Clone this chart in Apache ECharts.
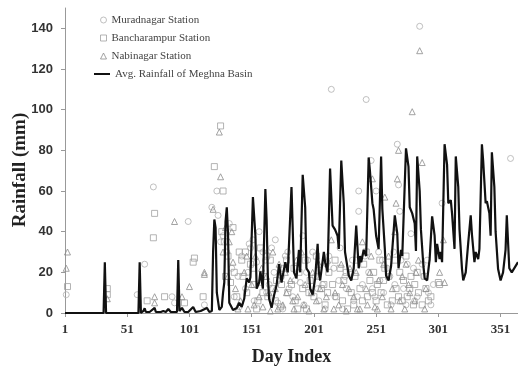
<!DOCTYPE html>
<html>
<head>
<meta charset="utf-8">
<script src="https://cdn.jsdelivr.net/npm/echarts@6/dist/echarts.min.js"></script>
<style>html,body{margin:0;padding:0;background:#fff;}#c{width:518px;height:371px;}</style>
</head>
<body>
<div id="c"></div>
<script>
// ---- Data ----
var xTickLabels = [1, 51, 101, 151, 201, 251, 301, 351];
var yTickLabels = [0, 20, 40, 60, 80, 100, 120, 140];
var xTitle = 'Day Index';
var yTitle = 'Rainfall (mm)';

var seriesNames = ["Muradnagar Station", "Bancharampur Station", "Nabinagar Station", "Avg. Rainfall of Meghna Basin"];

// Avg. rainfall line (day, mm) vertices
var avgDays = [1,32,33,34,60,61,62,64,65,66,69,73,74,78,80,82,84,86,91,92,93,95,97,100,104,106,110,115,117,119,120,121,122,123,125,127,128,129,130,131,132,133,136,139,141,143,145,147,149,150,152,154,155,157,158,160,162,163,164,165,167,169,171,173,175,178,180,183,185,187,189,190,192,194,195,197,198,200,202,204,205,206,209,210,212,214,216,218,220,221,223,225,226,229,231,233,235,237,238,239,241,243,245,246,248,249,251,253,255,256,258,259,261,263,266,268,269,271,272,275,277,278,280,282,283,284,286,287,289,290,292,294,296,298,299,300,302,303,304,306,308,309,311,312,314,315,317,318,320,321,323,325,327,328,330,331,333,334,336,337,339,340,342,343,344,346,347,349,351,353,355,356,358,360,365];
var avgRain = [0,0,25,0,0,25,0,1,2.3,0.5,0.5,2.5,0.5,0.5,1,0.5,2,0.5,0.5,26,1,2.5,0.5,0.5,3,0.5,1,2.5,0.5,1,30,46,42,10,1.5,3,10,15,45,52,39,5,1.5,2.5,5,3,7,17,15,17.6,57,38,12,15,20.5,12,61,46,18,7,2.6,8.7,13.6,24,15,25,20,62,20,17,31,20,68,52,22,20,12,9,17,34,20,16,30,25,20,71,43,41,38,31.5,75,54,30,18.4,16,22,43,22,28,25,31,28,76.5,70,54,51,38,31.5,77,51,31.5,18.4,16,23,48,39,22,31,28,81,72,52,49,44,30.5,77,60,41,23,17,16,26.5,47.5,38,25,34,26.5,30,25,83,73,54,55.5,49,31.5,77,62,41,21.6,16,20,34.5,48,38.6,25,30,26.5,31.5,83,75,54,55,49,38,79,62,40,21.6,16,20,31,48,22,20,25];

// Station observations (day, mm)
var muradDays = [2,59,65,72,87,89,100,113,119,123,124,128,131,135,140,143,146,149,150,152,155,158,160,163,167,169,172,175,178,181,184,187,190,193,196,199,202,205,208,211,215,218,221,224,227,230,233,237,237,240,243,245,247,250,251,254,257,260,263,266,268,269,270,273,276,279,282,286,289,293,297,304,359,
  126,133,137,141,148,153,157,162,165,170,176,180,186,192,195,200,204,210,213,217,222,226,232,236,242,248,253,256,262,265,271,275,281,284,288,292,295];
var muradRain = [9,9,24,62,8,5,45,4,52,60,48,38,30,22,18,28,12,34,32,36,25,15,30,10,32,20,5,18,28,12,8,22,15,4,26,10,18,6,14,24,110,8,16,2,12,20,6,60,50,14,105,20,75,8,60,16,10,22,4,14,83,63,50,12,24,39,6,141,18,10,14,54,76,
  35,44,8,3,20,6,40,26,14,36,2,30,16,38,20,30,12,2,28,22,32,18,26,8,28,12,30,26,18,30,26,4,22,8,24,26,4];

var banchDays = [3,35,35,67,72,73,81,97,104,105,112,121,126,127,129,132,134,137,139,141,144,147,150,153,156,158,161,164,166,168,171,174,177,180,183,186,189,192,195,198,201,204,207,210,213,216,219,222,225,228,231,234,238,241,244,246,249,252,255,258,261,264,267,270,273,276,279,282,285,288,291,295,301,302,
  128,130,136,143,146,152,155,160,163,170,175,179,185,188,194,197,203,209,212,218,224,227,233,236,240,243,248,251,254,257,260,266,269,272,275,278,281,284,290,293];
var banchRain = [13,12,9,6,37,49,8,5,25,27,8,72,92,40,35,28,15,20,8,30,18,10,24,14,6,32,18,8,26,12,16,3,22,10,14,6,20,12,2,16,8,18,12,4,20,14,8,22,16,2,10,18,12,24,8,16,20,14,10,22,18,6,12,20,16,8,18,14,10,4,12,8,15,14,
  60,18,42,26,30,22,2,10,28,6,14,26,22,2,26,10,28,14,10,26,6,20,4,26,6,30,10,6,26,16,4,26,8,6,28,12,4,20,18,6];

var nabiDays = [3,2,35,73,73,89,95,101,113,113,120,125,126,130,133,136,138,142,145,148,151,154,157,160,163,166,170,173,176,179,182,185,188,191,194,197,200,203,206,209,212,215,218,221,224,227,230,233,236,240,243,246,248,250,253,256,258,261,264,267,268,269,272,275,278,280,283,286,288,291,302,305,306,
  128,132,135,140,147,153,159,165,168,172,178,184,187,193,199,205,211,217,223,229,235,238,244,247,252,257,263,266,270,274,277,282,285,290];
var nabiRain = [30,22,7,8,5,45,8,13,20,19,51,89,67,42,35,25,12,6,20,2,14,28,8,3,18,1,12,24,4,10,16,2,8,30,14,1,20,6,12,2,26,36,10,4,14,1,22,8,2,35,12,20,66,3,16,8,57,28,12,54,66,80,18,24,10,99,20,129,74,12,20,36,15,
  30,18,40,2,28,4,22,10,30,2,20,6,26,4,10,24,8,2,24,12,20,2,4,28,2,24,2,40,6,2,14,6,26,2];

function pairs(xs, ys) { return xs.map(function (x, i) { return [x, ys[i]]; }); }

var chart = echarts.init(document.getElementById('c'), null, { renderer: 'canvas' });
var serif = '"Liberation Serif", "Times New Roman", serif';
var hollow = 'rgba(255,255,255,0)';
var cCircle = '#b0b0b0', cRect = '#a0a0a0', cTri = '#8c8c8c';
chart.setOption({
  animation: false,
  backgroundColor: '#ffffff',
  grid: { left: 65, top: 8, bottom: 53, width: 461 },
  legend: [
    {
      orient: 'vertical', left: 100, top: 13, padding: 0, itemWidth: 6, itemHeight: 6, itemGap: 4,
      symbolKeepAspect: true,
      textStyle: { fontFamily: serif, fontSize: 11, color: '#444', lineHeight: 14 },
      data: [
        { name: seriesNames[0], icon: 'circle', itemStyle: { color: hollow, borderColor: cCircle, borderWidth: 1 } },
        { name: seriesNames[1], icon: 'rect', itemStyle: { color: hollow, borderColor: cRect, borderWidth: 1 } },
        { name: seriesNames[2], icon: 'triangle', itemStyle: { color: hollow, borderColor: cTri, borderWidth: 1 } }
      ]
    },
    {
      orient: 'vertical', left: 94, top: 67, padding: 0, itemWidth: 16, itemHeight: 2,
      textStyle: { fontFamily: serif, fontSize: 11, color: '#444', lineHeight: 14 },
      data: [
        { name: seriesNames[3], icon: 'rect', itemStyle: { color: '#111', borderWidth: 0 } }
      ]
    }
  ],
  graphic: [
    {
      type: 'text', x: 20, y: 170, rotation: Math.PI / 2,
      style: { text: yTitle, font: 'bold 19px ' + serif, fill: '#222', align: 'center', verticalAlign: 'middle' }
    }
  ],
  xAxis: {
    type: 'value', min: 1, max: 365,
    name: xTitle, nameLocation: 'middle', nameGap: 35,
    nameTextStyle: { fontFamily: serif, fontSize: 18, fontWeight: 'bold', color: '#222' },
    axisLine: { lineStyle: { color: '#999', width: 1 } },
    axisTick: { show: true, length: 4, lineStyle: { color: '#999' }, customValues: xTickLabels },
    axisLabel: { customValues: xTickLabels, margin: 10, fontFamily: serif, fontSize: 13, fontWeight: 'bold', color: '#333' },
    splitLine: { show: false }
  },
  yAxis: {
    type: 'value', min: 0, max: 150,
    axisLine: { show: true, lineStyle: { color: '#999', width: 1 } },
    axisTick: { show: true, length: 4, lineStyle: { color: '#999' }, customValues: yTickLabels },
    axisLabel: { customValues: yTickLabels, margin: 12, fontFamily: '"Liberation Sans", Arial, sans-serif', fontSize: 13, fontWeight: 'bold', color: '#333' },
    splitLine: { show: false }
  },
  series: [
    { type: 'scatter', name: seriesNames[0], symbol: 'circle', symbolSize: 6, z: 2, data: pairs(muradDays, muradRain), itemStyle: { color: hollow, borderColor: cCircle, borderWidth: 1 } },
    { type: 'scatter', name: seriesNames[1], symbol: 'rect', symbolSize: 6, z: 2, data: pairs(banchDays, banchRain), itemStyle: { color: hollow, borderColor: cRect, borderWidth: 1 } },
    { type: 'scatter', name: seriesNames[2], symbol: 'triangle', symbolSize: 6, z: 2, data: pairs(nabiDays, nabiRain), itemStyle: { color: hollow, borderColor: cTri, borderWidth: 1 } },
    { name: seriesNames[3], type: 'line', symbol: 'none', z: 5, data: pairs(avgDays, avgRain), lineStyle: { color: '#111', width: 2.2 }, itemStyle: { color: '#111' } }
  ]
});
</script>
</body>
</html>
